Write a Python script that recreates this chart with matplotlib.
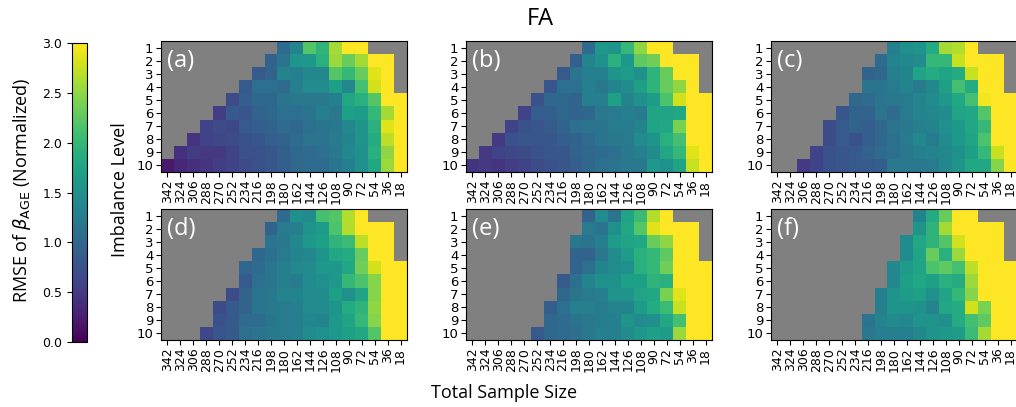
import matplotlib
matplotlib.use("Agg")
import matplotlib.pyplot as plt
import numpy as np

# x axis: total sample size, left to right
sample_sizes = [342, 324, 306, 288, 270, 252, 234, 216, 198, 180,
                162, 144, 126, 108, 90, 72, 54, 36, 18]
imbalance_levels = list(range(1, 11))

# each panel: first valid column per imbalance level + the valid values from there
# (cells outside the run are missing -> gray)
a_start = [9, 8, 7, 6, 5, 4, 3, 2, 1, 0]
a_rows = [
    [1.05, 1.35, 2.2, 1.95, 2.6, 3.0, 3.0],
    [0.95, 1.15, 1.55, 1.6, 1.9, 2.55, 2.3, 2.6, 3.0, 3.0],
    [0.85, 0.95, 1.35, 1.3, 1.4, 1.4, 2.2, 2.0, 2.3, 2.85, 3.0],
    [0.85, 1.1, 1.1, 1.05, 1.3, 1.45, 1.45, 1.7, 1.4, 2.1, 2.8, 3.0],
    [0.7, 0.9, 1.0, 1.0, 1.15, 1.2, 1.2, 1.2, 1.3, 1.8, 1.9, 2.2, 3.0, 3.0],
    [0.55, 0.85, 0.8, 0.95, 1.0, 1.1, 1.1, 1.15, 1.3, 1.2, 1.7, 1.65, 2.0, 2.6, 3.0],
    [0.6, 0.7, 0.65, 0.85, 0.9, 0.95, 1.05, 1.0, 1.1, 1.15, 1.2, 1.4, 1.55, 1.9, 2.85, 3.0],
    [0.45, 0.6, 0.65, 0.7, 0.75, 0.8, 0.9, 0.95, 1.05, 1.15, 1.15, 1.25, 1.35, 1.55, 1.85, 2.7, 3.0],
    [0.4, 0.55, 0.5, 0.5, 0.6, 0.75, 0.75, 0.8, 0.9, 1.0, 1.05, 1.1, 1.2, 1.4, 1.5, 1.9, 2.5, 3.0],
    [0.2, 0.35, 0.4, 0.45, 0.55, 0.6, 0.7, 0.75, 0.8, 0.9, 1.0, 1.05, 1.05, 1.15, 1.3, 1.5, 1.8, 2.55, 3.0],
]

b_start = [9, 8, 7, 6, 5, 4, 3, 2, 1, 0]
b_rows = [
    [1.05, 1.6, 1.55, 2.0, 2.5, 3.0, 3.0],
    [0.9, 1.35, 1.5, 1.9, 1.6, 2.25, 2.35, 3.0, 3.0, 3.0],
    [0.85, 1.15, 1.3, 1.3, 1.55, 1.65, 1.5, 1.95, 2.3, 3.0, 3.0],
    [0.8, 1.1, 1.1, 1.3, 1.2, 1.35, 1.45, 1.7, 1.95, 2.3, 2.5, 3.0],
    [0.75, 1.0, 1.0, 0.95, 1.3, 1.3, 1.7, 1.35, 1.5, 1.65, 2.15, 2.8, 3.0, 3.0],
    [0.6, 0.9, 0.9, 1.0, 0.95, 1.0, 1.2, 1.25, 1.3, 1.25, 1.75, 1.75, 1.8, 3.0, 3.0],
    [0.6, 0.75, 0.8, 0.85, 0.95, 1.1, 1.15, 1.15, 1.25, 1.25, 1.35, 1.75, 1.8, 2.4, 3.0, 3.0],
    [0.5, 0.75, 0.8, 0.8, 0.8, 0.9, 0.95, 1.05, 1.15, 1.2, 1.25, 1.45, 1.55, 1.9, 2.1, 3.0, 3.0],
    [0.5, 0.6, 0.65, 0.7, 0.75, 0.8, 0.8, 0.95, 1.0, 1.05, 1.1, 1.2, 1.3, 1.45, 1.8, 2.0, 2.85, 3.0],
    [0.45, 0.5, 0.45, 0.55, 0.6, 0.7, 0.75, 0.8, 0.9, 1.0, 1.1, 1.15, 1.2, 1.2, 1.6, 1.5, 1.75, 2.75, 3.0],
]

c_start = [9, 8, 7, 7, 6, 5, 4, 4, 3, 2]
c_rows = [
    [1.3, 1.5, 1.55, 1.85, 2.6, 2.65, 3.0],
    [1.05, 1.35, 1.4, 1.45, 2.0, 2.0, 2.75, 3.0, 3.0, 3.0],
    [0.95, 1.0, 1.3, 1.35, 1.75, 1.85, 1.75, 1.85, 2.75, 3.0, 3.0],
    [1.15, 1.15, 1.25, 1.35, 1.25, 1.4, 1.7, 2.1, 1.85, 3.0, 3.0],
    [1.0, 1.05, 1.15, 1.2, 1.25, 1.35, 1.45, 1.6, 1.8, 2.1, 2.95, 3.0, 3.0],
    [0.8, 0.95, 0.95, 1.15, 1.05, 1.25, 1.35, 1.4, 1.45, 1.75, 1.8, 2.2, 3.0, 3.0],
    [0.7, 0.85, 0.95, 0.9, 1.0, 1.15, 1.2, 1.3, 1.35, 1.5, 1.6, 1.8, 2.0, 3.0, 3.0],
    [0.7, 0.85, 0.75, 0.9, 1.0, 1.1, 1.25, 1.4, 1.25, 1.45, 1.6, 1.75, 2.15, 3.0, 3.0],
    [0.6, 0.75, 0.8, 0.85, 0.95, 1.05, 1.1, 1.2, 1.3, 1.35, 1.4, 1.5, 1.7, 2.0, 2.75, 3.0],
    [0.5, 0.6, 0.75, 0.8, 0.85, 0.85, 0.9, 1.2, 1.2, 1.2, 1.25, 1.4, 1.55, 1.8, 1.8, 2.45, 3.0],
]

d_start = [9, 8, 8, 7, 6, 6, 5, 4, 4, 3]
d_rows = [
    [1.05, 1.5, 1.45, 2.1, 2.2, 2.65, 3.0],
    [0.95, 1.25, 1.3, 1.55, 1.65, 2.15, 2.65, 3.0, 3.0, 3.0],
    [1.15, 1.2, 1.4, 1.6, 1.7, 1.95, 2.05, 2.7, 3.0, 3.0],
    [1.0, 1.1, 1.25, 1.35, 1.4, 1.55, 1.8, 1.85, 2.3, 3.0, 3.0],
    [1.0, 1.05, 1.15, 1.3, 1.4, 1.45, 1.6, 1.6, 1.8, 2.35, 2.8, 3.0, 3.0],
    [0.85, 1.1, 1.15, 1.3, 1.25, 1.45, 1.5, 1.6, 2.0, 2.15, 2.45, 3.0, 3.0],
    [0.7, 0.95, 1.15, 1.2, 1.35, 1.35, 1.45, 1.45, 1.7, 1.5, 1.75, 2.45, 3.0, 3.0],
    [0.7, 0.85, 0.95, 1.15, 1.2, 1.25, 1.3, 1.45, 1.45, 1.55, 1.85, 1.95, 2.5, 3.0, 3.0],
    [0.75, 0.85, 1.05, 1.05, 1.15, 1.25, 1.3, 1.4, 1.35, 1.6, 1.75, 2.0, 2.45, 3.0, 3.0],
    [0.65, 0.8, 0.85, 1.1, 1.15, 1.2, 1.25, 1.3, 1.45, 1.5, 1.6, 1.7, 1.8, 2.2, 3.0, 3.0],
]

e_start = [9, 9, 8, 8, 8, 7, 7, 6, 6, 5]
e_rows = [
    [0.95, 1.45, 1.15, 1.75, 2.05, 2.65, 3.0],
    [1.25, 1.15, 1.5, 1.8, 2.2, 2.85, 3.0, 3.0, 3.0],
    [1.2, 1.15, 1.3, 1.65, 1.75, 1.8, 2.3, 2.5, 3.0, 3.0],
    [0.95, 0.95, 1.2, 1.45, 1.65, 1.9, 2.0, 2.25, 3.0, 3.0],
    [0.95, 1.1, 1.35, 1.45, 1.5, 1.9, 2.0, 2.35, 3.0, 3.0, 3.0],
    [0.85, 1.1, 1.35, 1.5, 1.5, 1.7, 1.7, 1.95, 1.9, 3.0, 3.0, 3.0],
    [1.0, 1.15, 1.25, 1.3, 1.55, 1.55, 1.75, 1.8, 2.4, 2.85, 3.0, 3.0],
    [0.9, 1.1, 1.3, 1.3, 1.25, 1.35, 1.35, 1.65, 1.85, 2.05, 2.75, 3.0, 3.0],
    [1.0, 1.05, 1.15, 1.2, 1.25, 1.3, 1.55, 1.45, 1.5, 1.8, 2.1, 3.0, 3.0],
    [0.85, 1.0, 1.05, 1.1, 1.2, 1.3, 1.3, 1.45, 1.6, 1.7, 1.65, 2.55, 3.0, 3.0],
]

f_start = [11, 11, 10, 10, 9, 9, 8, 8, 7, 7]
f_rows = [
    [1.35, 1.85, 2.3, 3.0, 3.0],
    [1.55, 1.95, 2.6, 3.0, 3.0, 3.0, 3.0],
    [1.45, 1.8, 1.95, 2.2, 2.8, 3.0, 3.0, 3.0],
    [1.45, 1.75, 2.3, 1.9, 2.55, 3.0, 3.0, 3.0],
    [1.4, 1.65, 1.75, 2.15, 2.25, 2.1, 2.7, 3.0, 3.0, 3.0],
    [1.4, 1.7, 1.8, 1.7, 1.9, 1.85, 2.55, 3.0, 3.0, 3.0],
    [1.3, 1.55, 1.65, 1.7, 1.5, 1.75, 2.0, 2.45, 3.0, 3.0, 3.0],
    [1.3, 1.55, 1.55, 1.5, 1.35, 1.8, 1.85, 2.8, 2.4, 3.0, 3.0],
    [1.15, 1.35, 1.45, 1.4, 1.55, 1.55, 1.5, 1.85, 2.1, 2.25, 3.0, 3.0],
    [1.2, 1.3, 1.3, 1.3, 1.4, 1.55, 1.6, 1.65, 2.05, 2.6, 3.0, 3.0],
]

panels = [("(a)", a_start, a_rows), ("(b)", b_start, b_rows), ("(c)", c_start, c_rows),
          ("(d)", d_start, d_rows), ("(e)", e_start, e_rows), ("(f)", f_start, f_rows)]


def to_grid(starts, rows):
    grid = np.full((len(imbalance_levels), len(sample_sizes)), np.nan)
    for i, (s, vals) in enumerate(zip(starts, rows)):
        grid[i, s:s + len(vals)] = vals
    return np.ma.masked_invalid(grid)


W, H = 1016, 407
fig = plt.figure(figsize=(W / 100, H / 100), dpi=100)

lefts = [161, 466, 771]
tops = [41, 209]
pw, ph = 246, 131

cmap = plt.get_cmap("viridis").copy()
im = None
for k, (tag, starts, rows) in enumerate(panels):
    left = lefts[k % 3]
    top = tops[k // 3]
    ax = fig.add_axes([left / W, 1 - (top + ph) / H, pw / W, ph / H])
    ax.set_facecolor("#808080")
    im = ax.imshow(to_grid(starts, rows), cmap=cmap, vmin=0, vmax=3, aspect="auto",
                   interpolation="nearest")
    ax.set_xticks(range(len(sample_sizes)))
    ax.set_xticklabels([str(s) for s in sample_sizes], rotation=90, fontsize=9)
    ax.set_yticks(range(len(imbalance_levels)))
    ax.set_yticklabels([str(v) for v in imbalance_levels], fontsize=9.5)
    ax.tick_params(length=3.5, pad=2)
    ax.text(0.025, 0.94, tag, transform=ax.transAxes, color="white", fontsize=17,
            ha="left", va="top", family="Open Sans")

cax = fig.add_axes([72 / W, 1 - 342 / H, 15 / W, 299 / H])
cb = fig.colorbar(im, cax=cax)
cb.set_ticks([0, 0.5, 1.0, 1.5, 2.0, 2.5, 3.0])
cax.yaxis.set_ticks_position("left")
cax.tick_params(labelsize=9, length=3.5)
cb.outline.set_linewidth(0.8)

fig.text(22 / W, 1 - 190 / H, r"RMSE of $\beta_{\mathrm{AGE}}$ (Normalized)", rotation=90,
         ha="center", va="center", fontsize=13, family="Open Sans")
fig.text(120 / W, 1 - 190 / H, "Imbalance Level", rotation=90, ha="center", va="center",
         fontsize=13, family="Open Sans")
fig.text(504 / W, 1 - 393 / H, "Total Sample Size", ha="center", va="center",
         fontsize=13, family="Open Sans")
fig.text(540 / W, 1 - 19 / H, "FA", ha="center", va="center", fontsize=17,
         family="Open Sans")

fig.savefig("out.png", dpi=100)
